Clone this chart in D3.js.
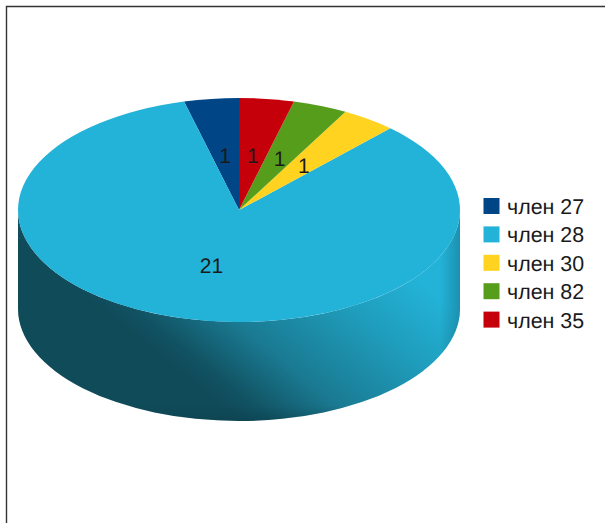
<!DOCTYPE html>
<html><head><meta charset="utf-8">
<script src="https://cdn.jsdelivr.net/npm/d3@7/dist/d3.min.js"></script>
<style>html,body{margin:0;padding:0;background:#fff}svg{display:block}text{text-rendering:geometricPrecision}</style>
</head><body><svg id="c" width="605" height="523"></svg>
<script>
const categories = ["член 27","член 28","член 30","член 82","член 35"];
const values = [1,21,1,1,1];
const colors = ["#004586","#23b3d8","#ffd320","#579d1c","#c5000b"];
const W=605,H=523,cx=239,cy=210,rx=221,ry=112,depth=99;
const svg=d3.select("#c");
svg.append("path").attr("d",`M6.5 ${H}V6.5H${W}`).attr("fill","none").attr("stroke","#333").attr("stroke-width",1.4);
const defs=svg.append("defs");
const g1=defs.append("linearGradient").attr("id","side").attr("gradientUnits","userSpaceOnUse")
  .attr("x1",105).attr("y1",310).attr("x2",269).attr("y2",108);
[[0,"#104b5a"],[0.07,"#115262"],[0.28,"#1a7a92"],[0.6,"#1f9dbc"],[0.85,"#23b3d8"]].forEach(s=>g1.append("stop").attr("offset",s[0]).attr("stop-color",s[1]));
const g2=defs.append("linearGradient").attr("id","rim").attr("gradientUnits","userSpaceOnUse")
  .attr("x1",cx).attr("y1",360).attr("x2",cx).attr("y2",cy+ry+depth);
[[0,0],[0.75,0.0],[1,0.25]].forEach(s=>g2.append("stop").attr("offset",s[0]).attr("stop-color","#06303c").attr("stop-opacity",s[1]));
const g3=defs.append("linearGradient").attr("id","rimR").attr("gradientUnits","userSpaceOnUse")
  .attr("x1",440).attr("y1",0).attr("x2",cx+rx).attr("y2",0);
[[0,0],[1,0.3]].forEach(s=>g3.append("stop").attr("offset",s[0]).attr("stop-color","#0a4050").attr("stop-opacity",s[1]));
const sideD=`M${cx-rx} ${cy}A${rx} ${ry} 0 0 0 ${cx+rx} ${cy}V${cy+depth}A${rx} ${ry} 0 0 1 ${cx-rx} ${cy+depth}Z`;
["url(#side)","url(#rim)","url(#rimR)"].forEach(f=>svg.append("path").attr("d",sideD).attr("fill",f));
const pie=d3.pie().sort(null).value(d=>d).startAngle(0).endAngle(-2*Math.PI);
const arcs=pie(values);
const r=d3.scaleLinear().domain([0,1]).range([0,rx]);
const arc=d3.arc().innerRadius(0).outerRadius(r(1));
const face=svg.append("g").attr("transform",`translate(${cx},${cy}) scale(1,${ry/rx})`);
face.selectAll("path").data(arcs).join("path").attr("d",arc).attr("fill",(d,i)=>colors[i]);
const font='"Liberation Sans",Arial,sans-serif';
const mid=d3.arc().innerRadius(r(.5)).outerRadius(r(.5));
svg.append("g").selectAll("text").data(arcs).join("text")
 .attr("x",d=>cx+mid.centroid(d)[0]).attr("y",d=>cy+mid.centroid(d)[1]*ry/rx+8.5)
 .attr("text-anchor","middle").attr("font-family",font).attr("font-size",21).attr("fill","#1a1a1a")
 .text(d=>d.value);
const ly=d3.scalePoint().domain(categories).range([206,319.6]);
const leg=svg.append("g").selectAll("g").data(categories).join("g").attr("transform",d=>`translate(483,${ly(d)})`);
leg.append("rect").attr("x",0.5).attr("y",-8).attr("width",16).attr("height",16).attr("fill",(d,i)=>colors[i]);
leg.append("text").attr("x",24).attr("y",8).attr("font-family",font).attr("font-size",21.4).attr("fill","#1a1a1a").text(d=>d);
</script></body></html>
